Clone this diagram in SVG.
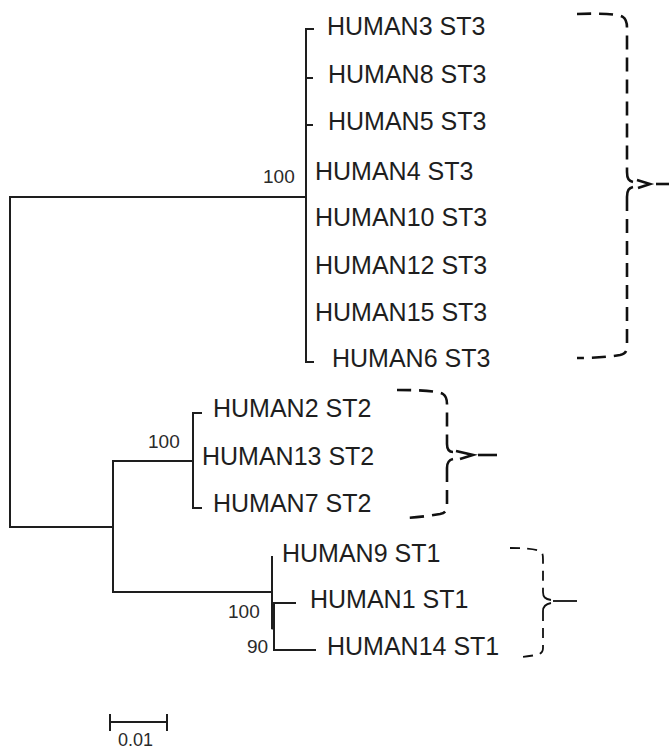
<svg xmlns="http://www.w3.org/2000/svg" width="669" height="749" viewBox="0 0 669 749">
<style>
  .lbl { font-family: "Liberation Sans", Arial, sans-serif; font-size: 25px; fill: #1e1e1e; }
  .bs { font-family: "Liberation Sans", Arial, sans-serif; font-size: 19px; fill: #2a2a2a; }
  .tree { fill: none; stroke: #1e1e1e; stroke-width: 2; stroke-linecap: square; }
  .brace { fill: none; stroke: #111; stroke-width: 2.6; stroke-dasharray: 14 8; stroke-linecap: butt; }
  .solid { fill: none; stroke: #111; stroke-width: 2.6; stroke-linecap: butt; }
  .brace3 { fill: none; stroke: #111; stroke-width: 1.8; stroke-dasharray: 10 7; stroke-linecap: butt; }
  .solid3 { fill: none; stroke: #111; stroke-width: 1.8; stroke-linecap: butt; }
</style>
<rect width="669" height="749" fill="#ffffff"/>

<g id="connectors">
  <path class="tree" d="M306,197 H10 V527 H113"/>
  <path class="tree" d="M113,461 V592"/>
  <path class="tree" d="M313,29 H306 V362 H313"/>
  <path class="tree" d="M306,78 H312"/>
  <path class="tree" d="M306,125 H312"/>
  <path class="tree" d="M113,461 H193"/>
  <path class="tree" d="M201,413 H193 V508 H201"/>
  <path class="tree" d="M113,592 H272"/>
  <path class="tree" d="M272,557 V628"/>
  <path class="tree" d="M274,603 V650 H315"/>
  <path class="tree" d="M274,603 H295"/>
  <path class="tree" d="M273,605 V628" style="stroke-width:3"/>
</g>

<g id="node-HUMAN3"><text class="lbl" x="327" y="35">HUMAN3 ST3</text></g>
<g id="node-HUMAN8"><text class="lbl" x="328" y="83">HUMAN8 ST3</text></g>
<g id="node-HUMAN5"><text class="lbl" x="328" y="130">HUMAN5 ST3</text></g>
<g id="node-HUMAN4"><text class="lbl" x="315" y="180">HUMAN4 ST3</text></g>
<g id="node-HUMAN10"><text class="lbl" x="315" y="226">HUMAN10 ST3</text></g>
<g id="node-HUMAN12"><text class="lbl" x="315" y="274">HUMAN12 ST3</text></g>
<g id="node-HUMAN15"><text class="lbl" x="315" y="321">HUMAN15 ST3</text></g>
<g id="node-HUMAN6"><text class="lbl" x="332" y="367">HUMAN6 ST3</text></g>

<g id="node-HUMAN2"><text class="lbl" x="213" y="417">HUMAN2 ST2</text></g>
<g id="node-HUMAN13"><text class="lbl" x="202" y="465">HUMAN13 ST2</text></g>
<g id="node-HUMAN7"><text class="lbl" x="213" y="512">HUMAN7 ST2</text></g>

<g id="node-HUMAN9"><text class="lbl" x="282" y="562">HUMAN9 ST1</text></g>
<g id="node-HUMAN1"><text class="lbl" x="310" y="608">HUMAN1 ST1</text></g>
<g id="node-HUMAN14"><text class="lbl" x="327" y="655">HUMAN14 ST1</text></g>

<g id="bootstrap">
  <text class="bs" x="263" y="183">100</text>
  <text class="bs" x="148" y="448">100</text>
  <text class="bs" x="228" y="618">100</text>
  <text class="bs" x="247" y="653">90</text>
</g>

<g id="brackets">
  <!-- ST3 brace -->
  <path class="brace" d="M577,14 C600,13 618,14 623,17 C626,19 627,22 627,28 L627,172"/>
  <path class="solid" d="M627,172 C627,179 629,181 633,182"/>
  <path class="solid" d="M637,180 L650,184 L638,188"/>
  <path class="solid" d="M656,184 H669"/>
  <path class="solid" d="M633,187 C629,188 627,190 627,197"/>
  <path class="brace" d="M627,197 L627,345 C627,352 625,354 620,355 C608,357 594,358 577,358"/>
  <!-- ST2 brace -->
  <path class="brace" d="M397,390 C420,390 438,391 443,394 C446,396 447,399 447,404 L447,444"/>
  <path class="solid" d="M447,444 C447,450 449,452 453,452"/>
  <path class="solid" d="M456,451 L473,455 L460,459"/>
  <path class="solid" d="M478,455 H497"/>
  <path class="solid" d="M453,459 C449,460 447,462 447,468"/>
  <path class="brace" d="M447,468 L447,505 C447,511 445,513 440,514 C428,516 414,518 402,518"/>
  <!-- ST1 brace -->
  <path class="brace3" d="M510,548 C525,548 535,549 540,551 C543,553 543,555 543,560 L543,592"/>
  <path class="solid3" d="M543,592 C543,597 545,599 551,600"/>
  <path class="solid3" d="M551,603 C546,604 543,606 543,611"/>
  <path class="solid3" d="M553,601 H577"/>
  <path class="brace3" d="M543,611 L543,648 C543,652 541,654 536,655 C530,656 524,657 518,657"/>
</g>

<g id="scale">
  <path class="tree" d="M110,722 H167 M110,715 V730 M167,715 V730"/>
  <text class="bs" x="118" y="746" style="font-size:18px">0.01</text>
</g>
</svg>
